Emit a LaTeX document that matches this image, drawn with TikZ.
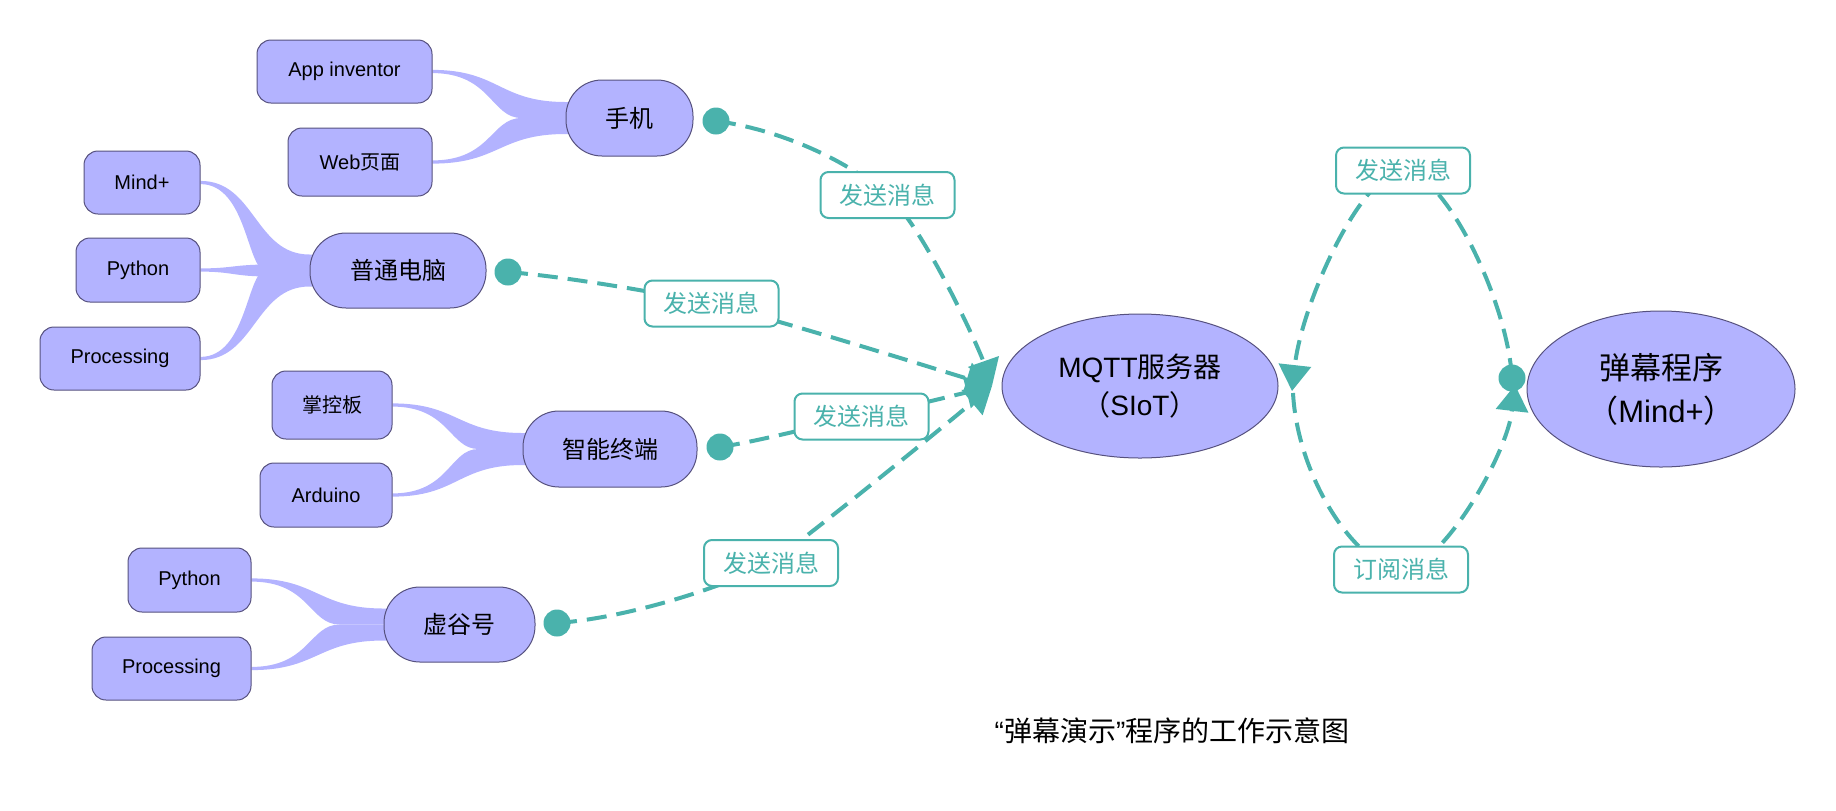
\documentclass[tikz,border=0pt]{standalone}
\usepackage{fontspec}
\setmainfont{Liberation Sans}
\newfontfamily\cjk[RawFeature=+halt]{Noto Sans CJK SC}
\usetikzlibrary{arrows.meta,shapes.geometric,calc}
\pgfdeclarelayer{bg}
\pgfsetlayers{bg,main}
\definecolor{nodefill}{HTML}{B3B3FF}
\definecolor{nodeline}{HTML}{56517E}
\definecolor{myteal}{HTML}{4AB2AC}
% outer mind-map branch: #1 child, #2 hub, #3 side (1 upper, -1 lower)
\newcommand\mybranchside[3]{%
  \fill[nodefill] let \p1=(#1.east), \p2=(#2.west), \n1={(\x1+\x2)/2}, \n2={(\x1+\x2)/2-4} in
    (\x1,{\y1+(#3)*0.8pt}) .. controls ({\n1*1pt},{\y1+(#3)*0.8pt}) and ({\n1*1pt},{\y2+(#3)*8pt}) .. (\x2,{\y2+(#3)*8pt})
    -- ({\x2+10pt},{\y2+(#3)*8pt}) -- ({\x2+10pt},\y2) -- ({\x2-22pt},\y2)
    .. controls ({\n2*1pt},\y2) and ({\n2*1pt},{\y1-(#3)*0.8pt}) .. (\x1,{\y1-(#3)*0.8pt}) -- cycle;}
% middle branch: #1 child, #2 hub
\newcommand\mybranchmid[2]{%
  \fill[nodefill] let \p1=(#1.east), \p2=(#2.west), \n1={(\x1+\x2-22pt)/2} in
    (\x1,{\y1+0.8pt}) .. controls ({\n1*1pt},{\y1+0.8pt}) and ({\n1*1pt},{\y2+3pt}) .. ({\x2-20pt},{\y2+3pt})
    -- ({\x2+10pt},{\y2+3pt}) -- ({\x2+10pt},{\y2-3pt}) -- ({\x2-20pt},{\y2-3pt})
    .. controls ({\n1*1pt},{\y2-3pt}) and ({\n1*1pt},{\y1-0.8pt}) .. (\x1,{\y1-0.8pt}) -- cycle;}
\begin{document}
\begin{tikzpicture}[x=0.5pt,y=-0.5pt,
  leafbox/.style={draw=nodeline, fill=nodefill, line width=0.5pt, rounded corners=7pt, inner sep=0pt, font=\fontsize{10}{12}\selectfont},
  hubbox/.style={draw=nodeline, fill=nodefill, line width=0.5pt, rounded corners=18pt, inner sep=0pt, font=\cjk\fontsize{12}{14}\selectfont},
  ellbox/.style={ellipse, draw=nodeline, fill=nodefill, line width=0.5pt, inner sep=0pt, align=center},
  msgbox/.style={draw=myteal, fill=white, line width=1pt, rounded corners=4pt, minimum width=67pt, minimum height=23pt, inner sep=0pt, text=myteal, font=\cjk\fontsize{12}{14}\selectfont},
  dotnode/.style={circle, fill=myteal, minimum size=13.5pt, inner sep=0pt},
  edgeline/.style={draw=myteal, line width=2pt, dash pattern=on 10pt off 5pt, -{Triangle[length=13pt,width=16pt]}}
]
\useasboundingbox (0,0) rectangle (1836,810);

% leaf nodes
\node[leafbox, minimum width=87.5pt, minimum height=31.5pt] (app) at (344.5,71.5) {App inventor};
\node[leafbox, minimum width=72pt, minimum height=34pt] (web) at (360,162) {Web{\cjk 页面}};
\node[leafbox, minimum width=58pt, minimum height=31.5pt] (mind) at (142,182.5) {Mind+};
\node[leafbox, minimum width=62pt, minimum height=32pt] (py1) at (138,270) {Python};
\node[leafbox, minimum width=80pt, minimum height=31.5pt] (proc1) at (120,358.5) {Processing};
\node[leafbox, minimum width=60pt, minimum height=34pt] (zkb) at (332,405) {\cjk 掌控板};
\node[leafbox, minimum width=66pt, minimum height=32pt] (ard) at (326,495) {Arduino};
\node[leafbox, minimum width=61.5pt, minimum height=32pt] (py2) at (189.5,580) {Python};
\node[leafbox, minimum width=79.5pt, minimum height=31.5pt] (proc2) at (171.5,668.5) {Processing};

% hub nodes
\node[hubbox, minimum width=63.5pt, minimum height=38pt] (phone) at (629.5,118) {手机};
\node[hubbox, minimum width=88pt, minimum height=37.5pt] (pc) at (398,270.5) {普通电脑};
\node[hubbox, minimum width=87pt, minimum height=38pt] (term) at (610,449) {智能终端};
\node[hubbox, minimum width=75.5pt, minimum height=37.5pt] (xgh) at (459.5,624.5) {虚谷号};

% branches
\begin{pgfonlayer}{bg}
\mybranchside{app}{phone}{1}
\mybranchside{web}{phone}{-1}
\mybranchside{mind}{pc}{1}
\mybranchmid{py1}{pc}
\mybranchside{proc1}{pc}{-1}
\mybranchside{zkb}{term}{1}
\mybranchside{ard}{term}{-1}
\mybranchside{py2}{xgh}{1}
\mybranchside{proc2}{xgh}{-1}
\end{pgfonlayer}

% ellipses
\node[ellbox, minimum width=138pt, minimum height=72pt, font=\fontsize{14}{19}\selectfont] (mqtt) at (1140,386) {MQTT{\cjk 服务器}\\{\cjk （}SIoT{\cjk ）}};
\node[ellbox, minimum width=134pt, minimum height=78pt, font=\fontsize{15.5}{21.5}\selectfont] (dm) at (1661,389) {{\cjk 弹幕程序}\\{\cjk （}Mind+{\cjk ）}};

% labels
\node[msgbox] (lab1) at (887.5,195) {发送消息};
\node[msgbox] (lab2) at (711.5,303.5) {发送消息};
\node[msgbox] (lab3) at (861.5,416.5) {发送消息};
\node[msgbox] (lab4) at (771,563) {发送消息};
\node[msgbox] (labTop) at (1403,170.5) {发送消息};
\node[msgbox] (labSub) at (1401,569.5) {订阅消息};

% dots
\node[dotnode] (dot1) at (716,121) {};
\node[dotnode] (dot2) at (508,272) {};
\node[dotnode] (dot3) at (720,447) {};
\node[dotnode] (dot4) at (557,623) {};
\node[dotnode] (dot5) at (1512,378) {};

\coordinate (tipL) at (992,386);
\coordinate (tipR1) at (1292,391);
\coordinate (startR) at (1293,393);
\coordinate (tipR2) at (1515,385);

% edges
\begin{pgfonlayer}{bg}
\draw[edgeline] (dot1.center) .. controls +(60,8) and +(-45,-38) .. (lab1.center) .. controls +(35,30) and +(-14,-40) .. (tipL);
\draw[edgeline] (dot2.center) .. controls +(60,5) and +(-60,-12) .. (lab2.center) .. controls +(80,20) and +(-60,-18) .. (tipL);
\draw[edgeline] (dot3.center) .. controls +(40,-6) and +(-40,8) .. (lab3.center) .. controls +(40,-8) and +(-40,10) .. (tipL);
\draw[edgeline] (dot4.center) .. controls +(70,-5) and +(-50,25) .. (lab4.center) .. controls +(60,-45) and +(-60,50) .. (tipL);
\draw[edgeline] (dot5.center) .. controls +(-5,-80) and +(40,0) .. (labTop.center) .. controls +(-40,0) and +(10,-90) .. (tipR1);
\draw[edgeline] (startR) .. controls +(5,90) and +(-40,0) .. (labSub.center) .. controls +(40,0) and +(-8,70) .. (tipR2);
\end{pgfonlayer}

% caption
\node[font=\fontsize{14}{16}\selectfont] (cap) at (1172,731) {“{\cjk 弹幕演示}”{\cjk 程序的工作示意图}};
\end{tikzpicture}
\end{document}
